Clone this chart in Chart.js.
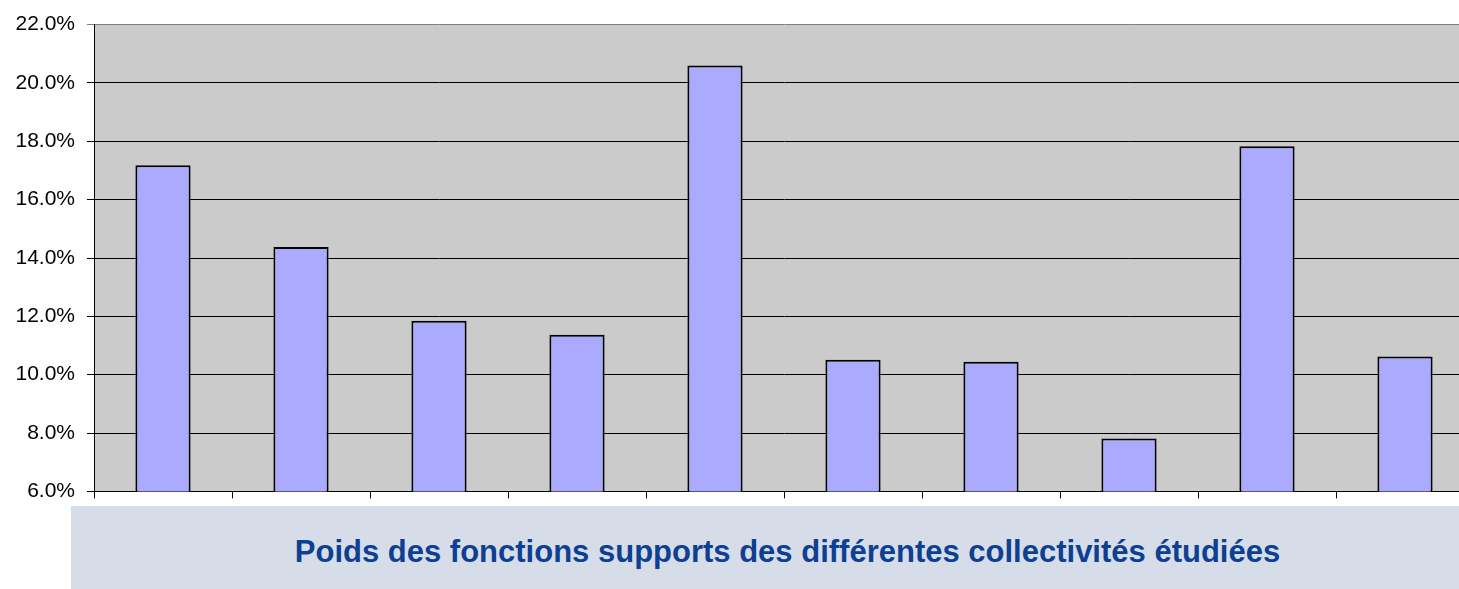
<!DOCTYPE html>
<html>
<head>
<meta charset="utf-8">
<script src="https://cdn.jsdelivr.net/npm/chart.js@4"></script>
<style>
  html, body { margin: 0; padding: 0; background: #fff; overflow: hidden; width: 1459px; height: 589px; }
  #wrap { position: absolute; left: 0; top: 0; }
  #caption {
    position: absolute; left: 71px; top: 506px; width: 1433px; height: 83px;
    background: #d6dde8; color: #0d3f92;
    font: bold 31px "Liberation Sans", Arial, sans-serif;
    display: flex; align-items: center; justify-content: center; white-space: nowrap;
    box-sizing: border-box; padding-top: 9px;
  }
</style>
</head>
<body>
<div id="wrap"><canvas id="myChart" width="1474" height="516"></canvas></div>
<div id="caption">Poids des fonctions supports des différentes collectivités étudiées</div>
<script>
const collectivites = ["C1", "C2", "C3", "C4", "C5", "C6", "C7", "C8", "C9", "C10"]
const poids = [17.18, 14.38, 11.85, 11.37, 20.6, 10.51, 10.44, 7.81, 17.83, 10.62]
const yMin = 6
const yMax = 22
const yStep = 2

// gray fill behind the plot area
const plotBackground = {
    id: 'plotBackground',
    beforeDraw(chart) {
        const {ctx, chartArea} = chart
        ctx.save()
        ctx.fillStyle = '#cbcbcb'
        ctx.fillRect(chartArea.left, chartArea.top, chartArea.right - chartArea.left, chartArea.bottom - chartArea.top)
        ctx.restore()
    }
}

const ctx1 = document.getElementById("myChart").getContext('2d')
const myChart = new Chart(ctx1, {
    type: "bar",
    data: {
        labels: collectivites,
        datasets: [{
            label: "Poids des fonctions supports",
            data: poids,
            backgroundColor: "#aaaaff",
            borderColor: "#000000",
            borderWidth: 2,
            borderSkipped: false,
            categoryPercentage: 1,
            barPercentage: 0.4
        }]
    },
    options: {
        responsive: false,
        animation: false,
        layout: {padding: {top: 24, right: 0, bottom: 5, left: 0}},
        plugins: {
            legend: {display: false},
            tooltip: {enabled: false}
        },
        scales: {
            x: {
                ticks: {display: false},
                grid: {drawOnChartArea: false, drawTicks: true, tickLength: 7, color: '#000', lineWidth: 1},
                border: {color: '#000', width: 1}
            },
            y: {
                min: yMin,
                max: yMax,
                afterFit: (scale) => { scale.width = 94 },
                ticks: {
                    stepSize: yStep,
                    padding: 12,
                    color: '#000',
                    font: {family: '"Liberation Sans", Arial, sans-serif', size: 21},
                    callback: (v) => v.toFixed(1) + '%'
                },
                grid: {
                    tickLength: 7,
                    lineWidth: 1,
                    color: (c) => (c.tick && c.tick.value === yMax) ? '#808080' : '#000'
                },
                border: {color: '#000', width: 1}
            }
        }
    },
    plugins: [plotBackground]
})
</script>
</body>
</html>
